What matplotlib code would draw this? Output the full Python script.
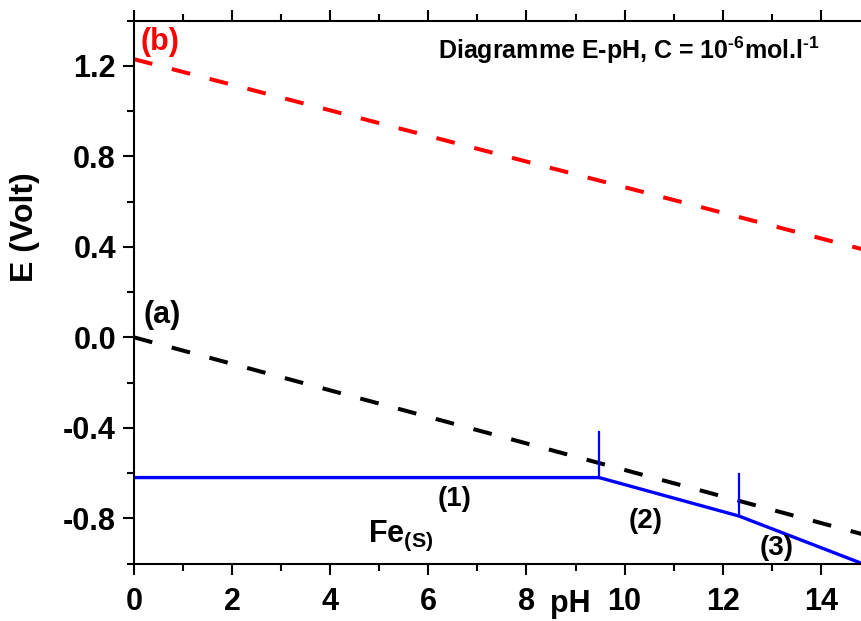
import matplotlib
matplotlib.use('Agg')
import matplotlib.pyplot as plt
from matplotlib.ticker import MultipleLocator

plt.rcParams['font.family'] = 'Liberation Sans'
plt.rcParams['font.weight'] = 'bold'
plt.rcParams['mathtext.fontset'] = 'custom'
plt.rcParams['mathtext.rm'] = 'Liberation Sans:bold'
plt.rcParams['mathtext.bf'] = 'Liberation Sans:bold'
plt.rcParams['mathtext.it'] = 'Liberation Sans:bold'

# water lines (a) and (b)
ph_water = [0, 14.84]
e_line_a = [0.0, -0.87]
e_line_b = [1.23, 0.39]

# iron boundary (blue)
ph_fe = [0, 9.48, 12.33, 14.84]
e_fe = [-0.62, -0.62, -0.79, -1.0]

# short vertical boundaries
ph_vert = [9.48, 12.33]
e_vert_low = [-0.62, -0.79]
e_vert_high = [-0.42, -0.605]

fig = plt.figure(figsize=(8.62, 6.21), dpi=100)
ax = fig.add_axes([134/862, 1 - 563.5/621, 1 - 134/862, (563.5 - 20.7)/621])

ax.plot(ph_water, e_line_b, color='red', lw=2.9, dashes=(4.7, 5.0))
ax.plot(ph_water, e_line_a, color='black', lw=2.9, dashes=(4.7, 5.0))
ax.plot(ph_fe, e_fe, color='blue', lw=2.4, solid_joinstyle='miter')
for x, lo, hi in zip(ph_vert, e_vert_low, e_vert_high):
    ax.plot([x, x], [lo, hi], color='blue', lw=1.6)

ax.set_xlim(0, 14.84)
ax.set_ylim(-1.0, 1.40)
ax.xaxis.set_major_locator(MultipleLocator(2))
ax.xaxis.set_minor_locator(MultipleLocator(1))
ax.yaxis.set_major_locator(MultipleLocator(0.4))
ax.yaxis.set_minor_locator(MultipleLocator(0.2))
ax.yaxis.set_major_formatter(matplotlib.ticker.FuncFormatter(lambda v, p: '%.1f' % v))

ax.tick_params(which='both', direction='out', top=True, right=False, width=1.5)
ax.tick_params(which='major', length=8, labelsize=22)
ax.tick_params(which='minor', length=5)
ax.tick_params(axis='x', which='major', pad=9)
ax.tick_params(axis='y', which='major', pad=5)
for s in ['left', 'bottom', 'top']:
    ax.spines[s].set_linewidth(1.5)
ax.spines['right'].set_visible(False)

ax.text(0.53, 1.306, '(b)', color='red', fontsize=22, ha='center', va='center')
ax.text(0.57, 0.097, '(a)', color='black', fontsize=22, ha='center', va='center')
ax.text(6.54, -0.713, '(1)', fontsize=20, ha='center', va='center')
ax.text(10.43, -0.81, '(2)', fontsize=20, ha='center', va='center')
ax.text(13.1, -0.93, '(3)', fontsize=20, ha='center', va='center')
ax.text(4.77, -0.905, r'Fe$_{(S)}$', fontsize=22, ha='left', va='baseline')
ax.text(13.98, 1.268, 'Diagramme E-pH, C = 10$^{\u20106}$mol.l$^{\u20101}$', fontsize=18,
        ha='right', va='center')
ax.text(8.9, -1.178, 'pH', fontsize=22, ha='center', va='center', clip_on=False)
fig.text(25/862, 1 - 227/621, 'E (Volt)', fontsize=23, rotation=90,
         ha='center', va='center')

fig.savefig('out.png', dpi=100)
